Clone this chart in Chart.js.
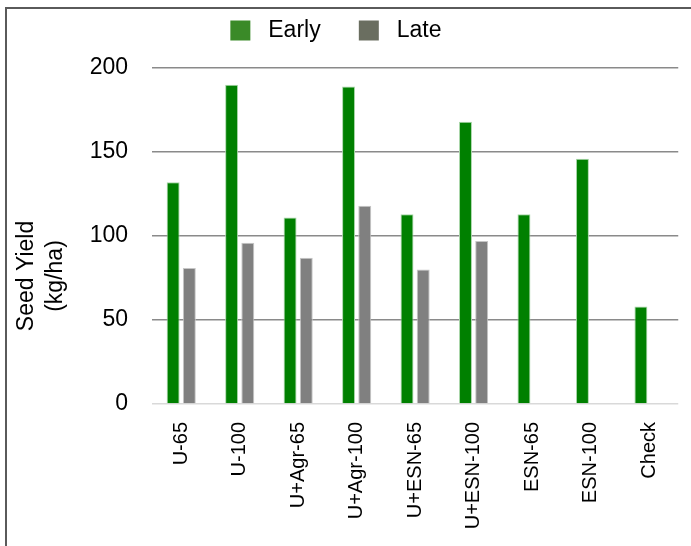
<!DOCTYPE html>
<html>

<head>
    <meta charset="utf-8">
    <script src="https://cdn.jsdelivr.net/npm/chart.js@4.4.0/dist/chart.umd.min.js"></script>
    <style>
        body {
            margin: 0;
            background: #fff;
        }

        #frame {
            position: absolute;
            left: 5px;
            top: 7px;
            width: 700px;
            height: 560px;
            border-top: 2px solid #5a5a5a;
            border-left: 2px solid #5a5a5a;
        }

        #chart-container {
            position: absolute;
            left: 0;
            top: 0;
            width: 691px;
            height: 546px;
        }
    </style>
</head>

<body>
    <div id="frame"></div>
    <div id="chart-container">
        <canvas id="yieldChart"></canvas>
    </div>
    <script>
        const categories = ["U-65", "U-100", "U+Agr-65", "U+Agr-100", "U+ESN-65", "U+ESN-100", "ESN-65", "ESN-100", "Check"];
        const earlyYield = [132, 190, 111, 189, 113, 168, 113, 146, 58];
        const lateYield = [81, 96, 87, 118, 80, 97, null, null, null];
        const seriesNames = ["Early", "Late"];
        const yTitle = ["Seed Yield", "(kg/ha)"];

        const FONT = "'Liberation Sans', Arial, sans-serif";

        // y axis title sits a bit below the axis centre in the original, so draw it by hand
        const yTitlePlugin = {
            id: 'yTitle',
            afterDraw: function (chart) {
                const ctx = chart.ctx;
                ctx.save();
                ctx.translate(33, 276);
                ctx.rotate(-Math.PI / 2);
                ctx.font = "23px " + FONT;
                ctx.fillStyle = "#000";
                ctx.textAlign = "center";
                ctx.textBaseline = "alphabetic";
                ctx.fillText(yTitle[0], 0, 0);
                ctx.fillText(yTitle[1], 0, 29);
                ctx.restore();
            }
        };

        const legendHeight = {
            id: 'legendHeight',
            beforeInit: function (chart) {
                const fit = chart.legend.fit;
                chart.legend.fit = function () {
                    fit.call(this);
                    this.height = 68;
                };
            }
        };

        const legendColors = ["#3a8a28", "#6a6e60"];
        const legendTexts = [" Early   ", " Late   "];

        new Chart(document.getElementById('yieldChart'), {
            type: 'bar',
            data: {
                labels: categories,
                datasets: [
                    {
                        label: seriesNames[0],
                        data: earlyYield,
                        backgroundColor: "#008000",
                        borderColor: "#a9d6a9",
                        borderWidth: 1,
                        categoryPercentage: 0.554,
                        barPercentage: 0.8
                    },
                    {
                        label: seriesNames[1],
                        data: lateYield,
                        backgroundColor: "#808080",
                        borderColor: "#c6c6c6",
                        borderWidth: 1,
                        categoryPercentage: 0.554,
                        barPercentage: 0.8
                    }
                ]
            },
            options: {
                responsive: true,
                maintainAspectRatio: false,
                animation: false,
                layout: { padding: 0 },
                plugins: {
                    tooltip: { enabled: false },
                    legend: {
                        position: 'top',
                        labels: {
                            boxWidth: 20,
                            boxHeight: 20,
                            padding: 19,
                            color: "#000",
                            font: { size: 23, family: FONT },
                            generateLabels: function (chart) {
                                return chart.data.datasets.map(function (ds, i) {
                                    return {
                                        text: legendTexts[i],
                                        fillStyle: legendColors[i],
                                        strokeStyle: legendColors[i],
                                        lineWidth: 0,
                                        datasetIndex: i
                                    };
                                });
                            }
                        }
                    }
                },
                scales: {
                    x: {
                        grid: { display: false, drawTicks: false },
                        border: { display: false },
                        ticks: {
                            color: "#000",
                            font: { size: 20, family: FONT },
                            minRotation: 90,
                            maxRotation: 90,
                            autoSkip: false,
                            padding: 18
                        },
                        afterFit: function (scale) { scale.height = 142; }
                    },
                    y: {
                        min: 0,
                        max: 200,
                        grid: {
                            drawTicks: false,
                            lineWidth: 1.5,
                            color: function (c) {
                                return c.tick && c.tick.value === 0 ? "#d9d9d9" : "#8a8a8a";
                            }
                        },
                        border: { display: false },
                        ticks: {
                            stepSize: 50,
                            color: "#000",
                            font: { size: 23, family: FONT },
                            padding: 24
                        },
                        afterFit: function (scale) { scale.width = 152; }
                    }
                }
            },
            plugins: [legendHeight, yTitlePlugin]
        });
    </script>
</body>

</html>
